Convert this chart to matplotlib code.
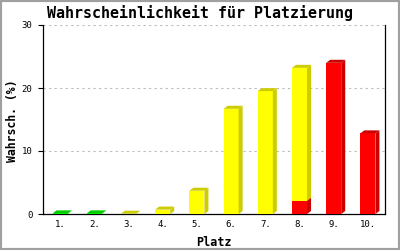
import numpy as np
import matplotlib
matplotlib.use("Agg")
import matplotlib.pyplot as plt
import matplotlib.transforms as mtransforms
from matplotlib.patches import Polygon, Rectangle

places = ["1.", "2.", "3.", "4.", "5.", "6.", "7.", "8.", "9.", "10."]
# probability segments per place (stacked bottom -> top: green, red, yellow)
p_green = [0.1, 0.1, 0, 0, 0, 0, 0, 0, 0, 0]
p_red = [0, 0, 0, 0, 0, 0, 0, 2.1, 24.0, 12.8]
p_yellow = [0, 0, 0.05, 0.7, 3.7, 16.7, 19.5, 21.1, 0, 0]
yticks = [0, 10, 20, 30]

# front colour, darker side/top colour
colors = {
    "green": ("#00ff00", "#00cc00"),
    "red": ("#ff0000", "#cc0000"),
    "yellow": ("#ffff00", "#cccc00"),
}
series = [("green", p_green), ("red", p_red), ("yellow", p_yellow)]

mono = "DejaVu Sans Mono"
fig = plt.figure(figsize=(4, 2.5), dpi=100)
fig.patch.set_facecolor("white")
ax = fig.add_axes([43 / 400, 36 / 250, 342 / 400, 189 / 250])

x = np.arange(1, len(places) + 1)
width = 0.44
ax.set_xlim(0.5, 10.5)
ax.set_ylim(0, 30)

dx, dy = 4, 3  # depth of the 3D effect in pixels
ident = mtransforms.IdentityTransform()
bottom = np.zeros(len(places))
for name, vals in series:
    front, dark = colors[name]
    vals = np.array(vals, dtype=float)
    for xi, b, v in zip(x, bottom, vals):
        if v <= 0:
            continue
        ax.bar(xi, v, bottom=b, width=width, color=front, linewidth=0, zorder=3)
        (x0, y0), (x1, y1) = ax.transData.transform([(xi - width / 2, b), (xi + width / 2, b + v)])
        side = [(x1, y0), (x1 + dx, y0 + dy), (x1 + dx, y1 + dy), (x1, y1)]
        top = [(x0, y1), (x1, y1), (x1 + dx, y1 + dy), (x0 + dx, y1 + dy)]
        for pts in (side, top):
            ax.add_patch(Polygon(pts, closed=True, transform=ident, facecolor=dark,
                                 edgecolor="none", zorder=3, clip_on=False))
    bottom += vals

ax.set_xticks(x)
ax.set_xticklabels(places, fontfamily=mono, fontsize=6.5)
ax.set_yticks(yticks)
ax.set_yticklabels([str(t) for t in yticks], fontfamily=mono, fontsize=6.5)
ax.tick_params(axis="x", length=0, pad=4)
ax.tick_params(axis="y", length=3.6, width=0.8, pad=4, direction="out")

ax.spines["top"].set_visible(False)
for s in ("left", "bottom", "right"):
    ax.spines[s].set_linewidth(0.9)
ax.set_axisbelow(True)
ax.yaxis.grid(True, linestyle=(0, (2, 3)), color="#bbbbbb", linewidth=0.8)

ax.set_xlabel("Platz", fontfamily=mono, fontweight="bold", fontsize=8.5, labelpad=5)
fig.text(13 / 400, 1 - 121 / 250, "Wahrsch. (%)", fontfamily=mono, fontweight="bold",
         fontsize=8.3, rotation=90, ha="center", va="center")
fig.text(0.5, 1 - 13 / 250, "Wahrscheinlichkeit für Platzierung", fontfamily=mono,
         fontweight="bold", fontsize=10.8, ha="center", va="center")

fig.patches.append(Rectangle((0, 0), 1, 1, transform=fig.transFigure, fill=False,
                             edgecolor="#a0a0a0", linewidth=3))

fig.savefig("out.png", dpi=100)
